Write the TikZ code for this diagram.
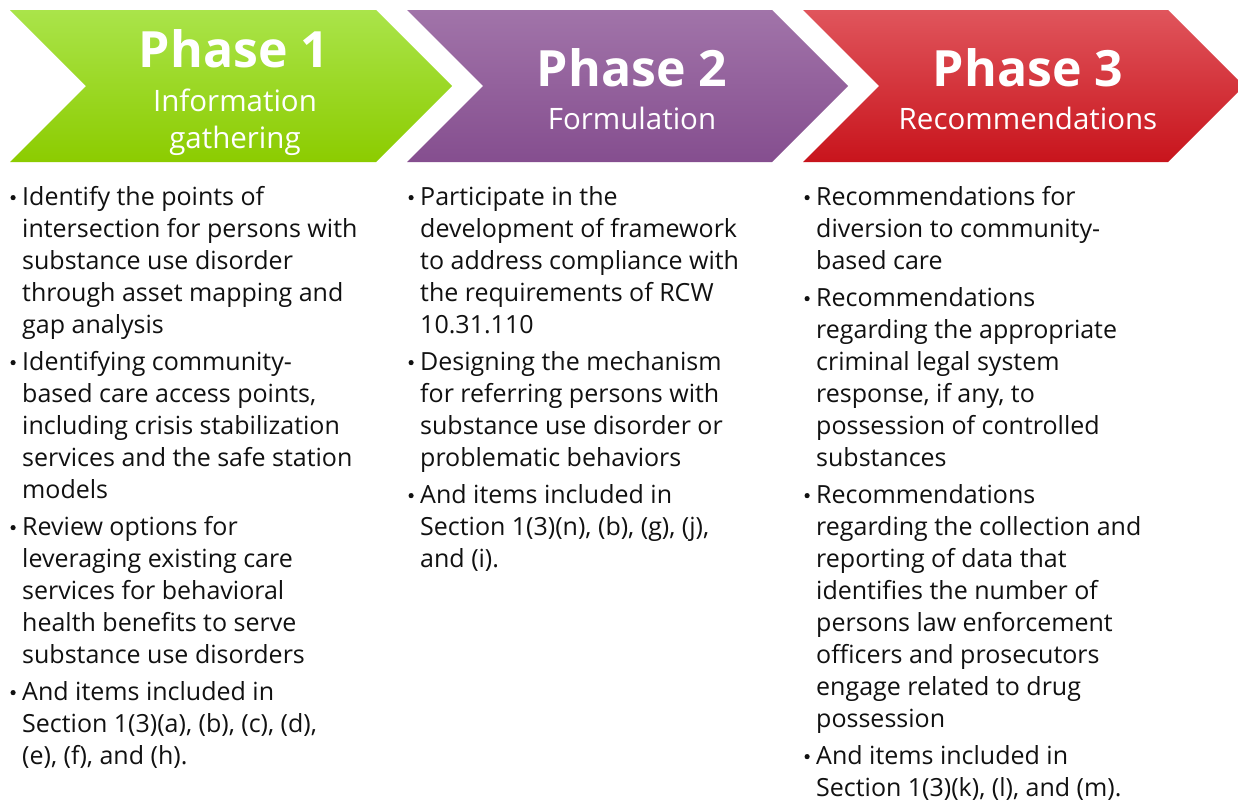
\documentclass[tikz,border=0pt]{standalone}
\usepackage{fontspec}
\setmainfont{Open Sans}
\usetikzlibrary{positioning}
\definecolor{gTop}{HTML}{AAE44A}
\definecolor{gMid}{HTML}{98E000}
\definecolor{gBot}{HTML}{8CCC00}
\definecolor{pTop}{HTML}{A174A9}
\definecolor{pMid}{HTML}{965EA0}
\definecolor{pBot}{HTML}{854E8F}
\definecolor{rTop}{HTML}{E0555C}
\definecolor{rMid}{HTML}{D91C24}
\definecolor{rBot}{HTML}{C8141C}
\definecolor{bodytext}{HTML}{111111}
\newcommand{\bul}{\llap{\tikz[baseline=0pt]\fill[bodytext] (0pt,8pt) circle (2.6pt);\hspace{6.5pt}}}
\tikzset{
  phasetitle/.style={text=white, font=\fontsize{50}{50}\selectfont\bfseries, inner sep=0pt, anchor=base},
  phasesub/.style={text=white, font=\fontsize{29.5}{35}\selectfont, inner sep=0pt, anchor=base, align=center},
  bodycol/.style={text=bodytext, font=\fontsize{25}{32}\selectfont, inner sep=0pt, anchor=north west, align=left}
}
\begin{document}
\begin{tikzpicture}[x=1pt,y=-1pt]
\useasboundingbox (0,0) rectangle (1238,801);
\fill[white] (0,0) rectangle (1238,801);
% chevrons
\shade[top color=gTop, middle color=gMid, bottom color=gBot] (10,10) -- (376,10) -- (452,86) -- (376,162) -- (10,162) -- (86,86) -- cycle;
\shade[top color=pTop, middle color=pMid, bottom color=pBot] (407,10) -- (772,10) -- (848,86) -- (772,162) -- (407,162) -- (483,86) -- cycle;
\shade[top color=rTop, middle color=rMid, bottom color=rBot] (803,10) -- (1168,10) -- (1244,86) -- (1168,162) -- (803,162) -- (879,86) -- cycle;
% titles
\node[phasetitle] (t1) at (234,67) {Phase 1};
\node[phasesub] (s1) at (235,111) {Information};
\node[phasesub] (s1b) at (235,148) {gathering};
\node[phasetitle] (t2) at (632,86) {Phase 2};
\node[phasesub] (s2) at (632,129) {Formulation};
\node[phasetitle] (t3) at (1028,86) {Phase 3};
\node[phasesub] (s3) at (1028,129) {Recommendations};
% body columns
\node[bodycol] (c1) at (22,183) {\strut\bul Identify the points of\\
intersection for persons with\\
substance use disorder\\
through asset mapping and\\
gap analysis\\[5pt]
\bul Identifying community-\\
based care access points,\\
including crisis stabilization\\
services and the safe station\\
models\\[5pt]
\bul Review options for\\
leveraging existing care\\
services for behavioral\\
health benefits to serve\\
substance use disorders\\[5pt]
\bul And items included in\\
Section 1(3)(a), (b), (c), (d),\\
(e), (f), and (h).};
\node[bodycol] (c2) at (420,183) {\strut\bul Participate in the\\
development of framework\\
to address compliance with\\
the requirements of RCW\\
10.31.110\\[5pt]
\bul Designing the mechanism\\
for referring persons with\\
substance use disorder or\\
problematic behaviors\\[5pt]
\bul And items included in\\
Section 1(3)(n), (b), (g), (j),\\
and (i).};
\node[bodycol] (c3) at (816,183) {\strut\bul Recommendations for\\
diversion to community-\\
based care\\[5pt]
\bul Recommendations\\
regarding the appropriate\\
criminal legal system\\
response, if any, to\\
possession of controlled\\
substances\\[5pt]
\bul Recommendations\\
regarding the collection and\\
reporting of data that\\
identifies the number of\\
persons law enforcement\\
officers and prosecutors\\
engage related to drug\\
possession\\[5pt]
\bul And items included in\\
Section 1(3)(k), (l), and (m).};
\end{tikzpicture}
\end{document}
